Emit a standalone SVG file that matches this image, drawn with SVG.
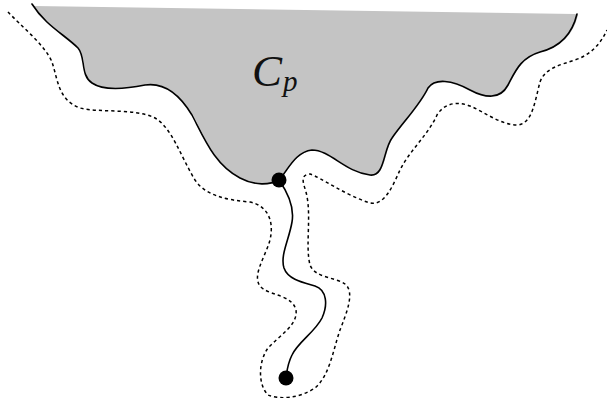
<svg xmlns="http://www.w3.org/2000/svg" width="607" height="398" viewBox="0 0 607 398">
<style>
.solid{fill:none;stroke:#000;stroke-width:1.6;stroke-linecap:round}
.dash{fill:none;stroke:#000;stroke-width:1.5;stroke-dasharray:3.2 3}
.dot{fill:#000}
.lbl{font-family:"Liberation Serif",serif;font-style:italic;fill:#111}
</style>
<rect width="607" height="398" fill="#fff"/>
<g id="region">
<path fill="#c4c4c4" d="M34,6 C46,26 66,36 79,49 C87,58 81,76 93,84 C106,92 131,88 146,85 C166,82 181,95 193,115 C206,140 216,165 241,178 C256,186 271,185 280,180 C289,170 296,152 313,150 C331,150 346,172 371,175 C386,177 384,150 393,138 C404,122 421,105 429,88 C436,78 453,80 471,90 C486,98 501,100 509,85 C516,72 521,58 541,52 C561,47 573,35 578,15 L575,14 L34,6 Z"/>
<text class="lbl" x="252" y="86" font-size="45">C</text>
<text class="lbl" x="283" y="91" font-size="29">p</text>
</g>
<g id="connectors">
<path class="solid" d="M32,4 C45,25 65,35 78,48 C86,57 80,75 92,83 C105,92 130,88 145,85 C165,82 180,95 192,115 C205,140 215,165 240,178 C255,186 270,185 279,180 C288,170 295,152 312,150 C330,150 345,172 370,175 C385,177 383,150 392,138 C403,122 420,105 428,88 C435,78 452,80 470,90 C485,98 500,100 508,85 C515,72 520,58 540,52 C560,47 572,35 577,14"/>
<path class="solid" d="M279,180 C286,190 295,205 292,222 C289,240 280,255 284,268 C288,280 305,283 315,286 C327,290 328,305 322,318 C315,332 298,342 292,355 C287,365 287,372 286,378"/>
<path class="dash" d="M8,12 C20,25 45,45 52,62 C58,80 58,100 80,108 C100,113 135,108 155,118 C172,128 180,155 195,180 C205,195 225,200 250,202 C265,205 275,218 270,240 C265,258 250,278 262,288 C272,296 292,295 296,310 C298,325 280,335 268,348 C258,362 258,385 268,395 C280,400 300,398 315,388 C330,375 333,350 340,330 C347,312 355,292 345,284 C335,277 315,278 310,265 C305,245 312,215 306,192 C303,182 300,175 310,174 C320,177 345,195 370,203 C385,206 393,185 400,170 C410,150 428,135 437,115 C443,105 455,100 470,106 C485,112 500,125 518,125 C533,123 535,100 540,82 C545,68 560,65 575,60 C590,55 600,45 607,30"/>
</g>
<g id="node-top"><circle class="dot" cx="279" cy="180" r="7.5"/></g>
<g id="node-bottom"><circle class="dot" cx="286" cy="378" r="7.5"/></g>
</svg>
